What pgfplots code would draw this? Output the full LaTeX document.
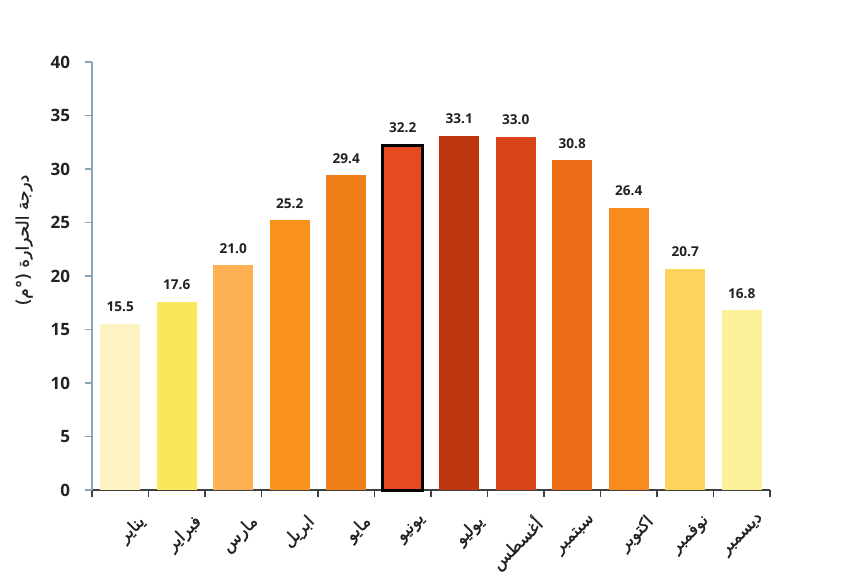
\documentclass[border=0pt]{standalone}
\usepackage{fontspec}
\setmainfont{Open Sans}
\newfontfamily\arabicfont[Script=Arabic, FakeBold=1.2]{DejaVu Sans}
\TeXXeTstate=1
\usepackage{pgfplots}
\pgfplotsset{compat=1.18}
\definecolor{c1}{HTML}{FDF3C3}
\definecolor{c2}{HTML}{FBE85A}
\definecolor{c3}{HTML}{FDB152}
\definecolor{c4}{HTML}{F9931D}
\definecolor{c5}{HTML}{F07E19}
\definecolor{c6}{HTML}{E54B1F}
\definecolor{c7}{HTML}{BE360F}
\definecolor{c8}{HTML}{D94419}
\definecolor{c9}{HTML}{EC6B14}
\definecolor{c10}{HTML}{F88A1E}
\definecolor{c11}{HTML}{FDD35C}
\definecolor{c12}{HTML}{FCF09A}
\definecolor{yaxis}{HTML}{8AA4B8}
\definecolor{txt}{HTML}{222222}
\begin{document}
\begin{tikzpicture}
\path[use as bounding box] (-46bp,-42bp) rectangle (379bp,245bp);
\begin{axis}[
  at={(0,0)}, anchor=south west,
  scale only axis, width=339bp, height=214bp,
  xmin=-0.5, xmax=11.5, ymin=0, ymax=40,
  axis x line*=bottom, axis y line*=left,
  axis line style={-},
  x axis line style={draw=black!75, line width=0.6bp},
  y axis line style={draw=yaxis, line width=0.6bp},
  ytick={0,5,...,40},
  xtick={0,...,11},
  minor xtick={-0.5,0.5,...,11.5},
  tick align=outside,
  major x tick style={draw=none},
  minor x tick style={draw=black!75, line width=0.6bp},
  minor tick length=3.5bp,
  y tick style={draw=yaxis, line width=0.6bp},
  major tick length=3.5bp,
  xticklabels={\beginR يناير\endR,\beginR فبراير\endR,\beginR مارس\endR,\beginR ابريل\endR,\beginR مايو\endR,\beginR يونيو\endR,\beginR يوليو\endR,\beginR أغسطس\endR,\beginR سبتمبر\endR,\beginR اكتوبر\endR,\beginR نوفمبر\endR,\beginR ديسمبر\endR},
  x tick label style={font=\arabicfont\fontsize{8.5bp}{10bp}\selectfont, text=txt, rotate=45, anchor=north east, xshift=3.5bp, yshift=-8bp},
  y tick label style={font=\fontsize{8.5bp}{10bp}\selectfont\bfseries, text=txt, xshift=-4bp},
  /pgf/number format/assume math mode=true,
  ylabel={\arabicfont\beginR درجة الحرارة (°م)\endR},
  ylabel style={font=\fontsize{8.5bp}{10bp}\selectfont, text=txt, at={(axis description cs:-0.1,0.584)}, anchor=center},
  ybar, bar width=20bp, bar shift=0pt,
  nodes near coords,
  nodes near coords style={font=\fontsize{6.8bp}{8bp}\selectfont\bfseries, text=txt, /pgf/number format/fixed, /pgf/number format/fixed zerofill, /pgf/number format/precision=1, /pgf/number format/assume math mode=true, yshift=2.5bp},
  clip=false,
]
\addplot[fill=c1, draw=none] coordinates {(0,15.5)};
\addplot[fill=c2, draw=none] coordinates {(1,17.6)};
\addplot[fill=c3, draw=none] coordinates {(2,21.0)};
\addplot[fill=c4, draw=none] coordinates {(3,25.2)};
\addplot[fill=c5, draw=none] coordinates {(4,29.4)};
\addplot[fill=c6, draw=black, line width=1.5bp] coordinates {(5,32.2)};
\addplot[fill=c7, draw=none] coordinates {(6,33.1)};
\addplot[fill=c8, draw=none] coordinates {(7,33.0)};
\addplot[fill=c9, draw=none] coordinates {(8,30.8)};
\addplot[fill=c10, draw=none] coordinates {(9,26.4)};
\addplot[fill=c11, draw=none] coordinates {(10,20.7)};
\addplot[fill=c12, draw=none] coordinates {(11,16.8)};
\end{axis}
\end{tikzpicture}
\end{document}
